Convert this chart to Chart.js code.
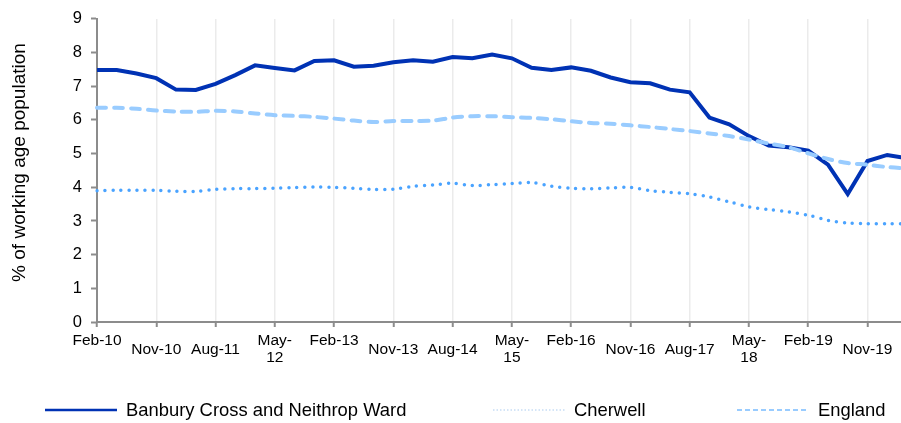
<!DOCTYPE html>
<html>
<head>
<meta charset="utf-8">
<script src="https://cdn.jsdelivr.net/npm/chart.js@4.4.0/dist/chart.umd.min.js"></script>
<style>
  html, body { margin: 0; padding: 0; background: #fff; overflow: hidden; }
  #wrap { width: 901px; height: 423px; overflow: hidden; }
  canvas { display: block; }
</style>
</head>
<body>
<div id="wrap"><canvas id="chart" width="912" height="423"></canvas></div>
<script>
// quarterly claimant rate, Feb-10 .. May-20
const quarters = [
  'Feb-10', 'May-10', 'Aug-10', 'Nov-10', 'Feb-11', 'May-11', 'Aug-11', 'Nov-11',
  'Feb-12', 'May-12', 'Aug-12', 'Nov-12', 'Feb-13', 'May-13', 'Aug-13', 'Nov-13',
  'Feb-14', 'May-14', 'Aug-14', 'Nov-14', 'Feb-15', 'May-15', 'Aug-15', 'Nov-15',
  'Feb-16', 'May-16', 'Aug-16', 'Nov-16', 'Feb-17', 'May-17', 'Aug-17', 'Nov-17',
  'Feb-18', 'May-18', 'Aug-18', 'Nov-18', 'Feb-19', 'May-19', 'Aug-19', 'Nov-19',
  'Feb-20', 'May-20'
];

const banbury = [
  7.48, 7.48, 7.38, 7.24, 6.90, 6.89, 7.07, 7.33, 7.62, 7.54,
  7.47, 7.75, 7.77, 7.58, 7.61, 7.71, 7.77, 7.73, 7.87, 7.83,
  7.94, 7.83, 7.55, 7.48, 7.56, 7.46, 7.26, 7.12, 7.09, 6.90,
  6.82, 6.07, 5.87, 5.52, 5.24, 5.19, 5.09, 4.67, 3.80, 4.78,
  4.96, 4.86
];

const cherwell = [
  3.90, 3.91, 3.91, 3.91, 3.88, 3.88, 3.94, 3.96, 3.96, 3.97,
  3.99, 4.01, 4.00, 3.97, 3.94, 3.94, 4.03, 4.07, 4.12, 4.05,
  4.08, 4.11, 4.14, 4.03, 3.97, 3.96, 3.98, 4.00, 3.90, 3.85,
  3.81, 3.71, 3.57, 3.42, 3.34, 3.27, 3.17, 3.02, 2.94, 2.92,
  2.92, 2.92
];

const england = [
  6.36, 6.36, 6.33, 6.28, 6.25, 6.24, 6.27, 6.25, 6.19, 6.14,
  6.12, 6.09, 6.04, 5.98, 5.94, 5.97, 5.97, 5.98, 6.07, 6.11,
  6.11, 6.08, 6.06, 6.02, 5.96, 5.91, 5.89, 5.84, 5.79, 5.73,
  5.67, 5.60, 5.52, 5.42, 5.30, 5.19, 5.01, 4.84, 4.72, 4.67,
  4.60, 4.56
];

// every third quarter is labelled
const tickLabels = [
  ['Feb-10', ''], 'Nov-10', 'Aug-11', ['May-', '12'], ['Feb-13', ''], 'Nov-13', 'Aug-14',
  ['May-', '15'], ['Feb-16', ''], 'Nov-16', 'Aug-17', ['May-', '18'], ['Feb-19', ''], 'Nov-19'
];

const axisGrey = '#8c8c8c';
const FONT = 'Liberation Sans, Arial, sans-serif';

// legend drawn by hand so the wide Excel spacing can be kept
const legendSpots = [
  { ds: 0, x: 45, sample: { color: '#0032b4', width: 2.5, dash: [] } },
  { ds: 1, x: 493, sample: { color: '#c6ddf5', width: 1.5, dash: [1.5, 2] } },
  { ds: 2, x: 737, sample: { color: '#99ccff', width: 2, dash: [5, 3] } }
];

const legendPlugin = {
  id: 'wideLegend',
  afterDraw(chart) {
    const ctx = chart.ctx;
    const y = 410;
    ctx.save();
    legendSpots.forEach(item => {
      ctx.beginPath();
      ctx.setLineDash(item.sample.dash);
      ctx.strokeStyle = item.sample.color;
      ctx.lineWidth = item.sample.width;
      ctx.moveTo(item.x, y);
      ctx.lineTo(item.x + 72, y);
      ctx.stroke();
      ctx.setLineDash([]);
      ctx.fillStyle = '#000';
      ctx.font = '18.4px ' + FONT;
      ctx.textBaseline = 'middle';
      ctx.fillText(chart.data.datasets[item.ds].label, item.x + 81, y + 1);
    });
    ctx.restore();
  }
};

new Chart(document.getElementById('chart'), {
  type: 'line',
  data: {
    labels: quarters,
    datasets: [
      {
        label: 'Banbury Cross and Neithrop Ward',
        data: banbury,
        borderColor: '#0032b4',
        borderWidth: 4,
        tension: 0,
        pointRadius: 0,
        order: 1
      },
      {
        label: 'Cherwell',
        data: cherwell,
        borderColor: '#4aa3ff',
        borderWidth: 3.5,
        borderDash: [0, 8],
        borderCapStyle: 'round',
        tension: 0.3,
        pointRadius: 0,
        order: 2
      },
      {
        label: 'England',
        data: england,
        borderColor: '#99ccff',
        borderWidth: 4,
        borderDash: [9, 8],
        borderCapStyle: 'round',
        tension: 0.3,
        pointRadius: 0,
        order: 0
      }
    ]
  },
  options: {
    responsive: false,
    animation: false,
    layout: { padding: { top: 16, right: 5, bottom: 49, left: 0 } },
    plugins: {
      legend: { display: false },
      tooltip: { enabled: false }
    },
    scales: {
      x: {
        offset: false,
        border: { color: axisGrey, width: 2 },
        grid: {
          color: '#ebebeb',
          lineWidth: 1.5,
          tickLength: 5,
          tickColor: axisGrey,
          tickWidth: 2
        },
        ticks: {
          autoSkip: false,
          maxRotation: 0,
          minRotation: 0,
          crossAlign: 'center',
          padding: 14,
          color: '#000',
          font: { family: FONT, size: 15.5, lineHeight: 1.1 },
          callback: (val, i) => (i % 3 === 0 ? tickLabels[i / 3] : null)
        },
        afterFit: scale => { scale.height = 52; }
      },
      y: {
        min: 0,
        max: 9,
        border: { color: axisGrey, width: 2 },
        grid: {
          drawOnChartArea: false,
          tickLength: 6,
          tickColor: axisGrey,
          tickWidth: 2
        },
        ticks: {
          stepSize: 1,
          padding: 9,
          color: '#000',
          font: { family: FONT, size: 16.5 }
        },
        title: {
          display: true,
          // leading spaces nudge the centred title up a little, as in the source
          text: '   % of working age population',
          color: '#000',
          font: { family: FONT, size: 19 },
          padding: { top: 8, bottom: 0 }
        },
        afterFit: scale => { scale.width = 97; }
      }
    }
  },
  plugins: [legendPlugin]
});
</script>
</body>
</html>
